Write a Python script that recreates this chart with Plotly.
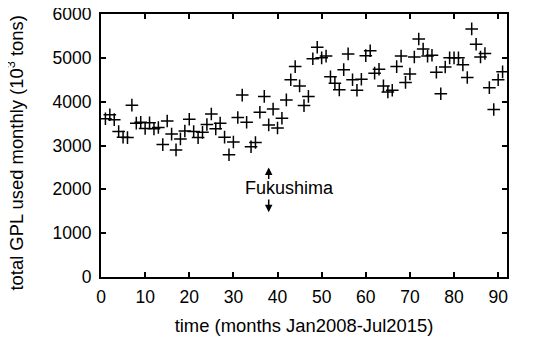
import plotly.graph_objects as go

months = list(range(1, 92))
gpl_kt = [3.61, 3.70, 3.59, 3.32, 3.19, 3.18, 3.92, 3.51, 3.53, 3.39,
          3.52, 3.38, 3.41, 3.02, 3.56, 3.26, 2.90, 3.15, 3.33, 3.60,
          3.32, 3.18, 3.30, 3.48, 3.72, 3.38, 3.51, 3.19, 2.79, 3.08,
          3.64, 4.15, 3.53, 2.97, 3.07, 3.76, 4.12, 3.47, 3.83, 3.40,
          3.62, 4.04, 4.50, 4.80, 4.36, 3.91, 4.12, 4.98, 5.24, 5.00,
          5.04, 4.57, 4.42, 4.27, 4.73, 5.09, 4.50, 4.26, 4.51, 5.05,
          5.16, 4.65, 4.74, 4.36, 4.22, 4.26, 4.80, 5.04, 4.44, 4.63,
          5.02, 5.43, 5.20, 5.04, 5.06, 4.67, 4.18, 4.79, 5.00, 5.00,
          5.00, 4.84, 4.55, 5.66, 5.31, 5.02, 5.10, 4.32, 3.82, 4.50,
          4.68]
gpl = [v * 1000 for v in gpl_kt]

x_ticks = [0, 10, 20, 30, 40, 50, 60, 70, 80, 90]
y_ticks = [0, 1000, 2000, 3000, 4000, 5000, 6000]

event_label = "Fukushima"
event_month = 38
event_label_x = 32.2
event_label_y = 2040
arrow_up = (2200, 2500)
arrow_down = (1800, 1480)

FONT = "Liberation Sans, Arial, Helvetica, sans-serif"
FS = 17.5
FT = 18.4

fig = go.Figure()
fig.add_trace(go.Scatter(
    x=months, y=gpl, mode="markers",
    marker=dict(symbol="cross-thin-open", size=9, color="black",
                line=dict(color="black", width=1.5)),
    showlegend=False,
))

axis_common = dict(
    showline=True, linecolor="black", linewidth=2, mirror="ticks",
    ticks="inside", ticklen=5, tickwidth=2, tickcolor="black",
    showgrid=False, zeroline=False, automargin=False,
    ticklabeloverflow="allow",
    tickfont=dict(family=FONT, size=FS, color="black"),
)

# the page body adds an 8px offset; the figure is sized to compensate
fig.update_layout(
    width=532, height=330,
    margin=dict(l=93, r=33, t=6, b=61),
    paper_bgcolor="white", plot_bgcolor="white",
    font=dict(family=FONT, size=FS, color="black"),
    xaxis=dict(range=[0, 92], tickvals=x_ticks, ticklabelstandoff=3,
               title=dict(text="time (months Jan2008-Jul2015)",
                          font=dict(family=FONT, size=FT), standoff=13),
               **axis_common),
    yaxis=dict(range=[0, 6000], tickvals=y_ticks, ticklabelstandoff=4,
               **axis_common),
)

fig.add_annotation(
    text="total GPL used monthly (10<sup>3</sup> tons)",
    xref="paper", yref="paper", x=-0.212, y=0.473,
    textangle=-90, showarrow=False, xanchor="center", yanchor="middle",
    font=dict(family=FONT, size=FT, color="black"),
)

fig.add_annotation(
    text=event_label, x=event_label_x, y=event_label_y,
    xref="x", yref="y", xanchor="left", yanchor="middle", showarrow=False,
    font=dict(family=FONT, size=18, color="black"),
)
for tail, head in (arrow_up, arrow_down):
    fig.add_annotation(
        x=event_month, y=head, ax=event_month, ay=tail,
        xref="x", yref="y", axref="x", ayref="y",
        showarrow=True, arrowhead=2, arrowsize=1, arrowwidth=1.5,
        arrowcolor="black", text="",
    )

fig.write_html("out.html")
